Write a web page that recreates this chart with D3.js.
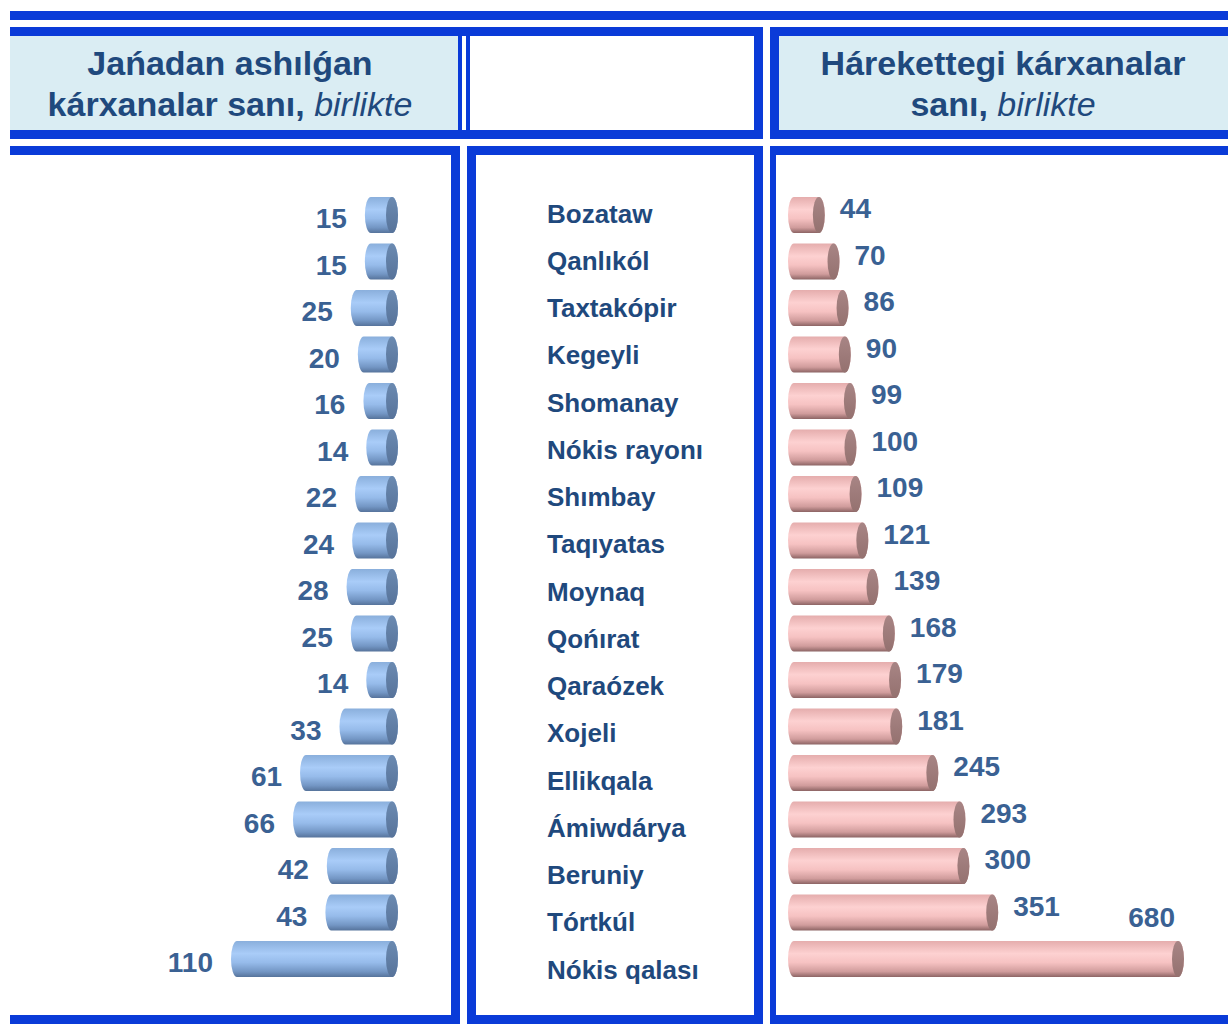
<!DOCTYPE html>
<html>
<head>
<meta charset="utf-8">
<script src="https://cdn.jsdelivr.net/npm/d3@7"></script>
<style>
  html, body { margin: 0; padding: 0; background: #ffffff; }
  svg { display: block; }
</style>
</head>
<body>
<svg id="chart" width="1228" height="1027"></svg>
<script>
// District names, top to bottom
const districts = [
  "Bozataw", "Qanlıkól", "Taxtakópir", "Kegeyli", "Shomanay", "Nókis rayonı",
  "Shımbay", "Taqıyatas", "Moynaq", "Qońırat", "Qaraózek", "Xojeli",
  "Ellikqala", "Ámiwdárya", "Beruniy", "Tórtkúl", "Nókis qalası"
];
// Newly opened enterprises, units
const newEnterprises = [15, 15, 25, 20, 16, 14, 22, 24, 28, 25, 14, 33, 61, 66, 42, 43, 110];
// Operating enterprises, units
const activeEnterprises = [44, 70, 86, 90, 99, 100, 109, 121, 139, 168, 179, 181, 245, 293, 300, 351, 680];

const leftTitle = ["Jańadan ashılǵan", "kárxanalar sanı, ", "birlikte"];
const rightTitle = ["Hárekettegi kárxanalar", "sanı, ", "birlikte"];

const BORDER = "#0a3bd8";
const HEAD_FILL = "#daedf3";
const TITLE = "#1f497d";
const VALUE = "#3a6193";
const FONT = "'Liberation Sans', Arial, sans-serif";

const svg = d3.select("#chart");
const defs = svg.append("defs");

function vGrad(id, stops) {
  const g = defs.append("linearGradient").attr("id", id)
    .attr("x1", 0).attr("y1", 0).attr("x2", 0).attr("y2", 1);
  stops.forEach(([o, c]) => g.append("stop").attr("offset", o).attr("stop-color", c));
}
vGrad("blueBody", [[0, "#8aafdc"], [0.35, "#a9ccf8"], [0.6, "#96bbea"], [0.85, "#7396c4"], [1, "#56739b"]]);
vGrad("blueCap", [[0, "#6b8ab1"], [1, "#57739a"]]);
vGrad("pinkBody", [[0, "#e5adad"], [0.35, "#fdd1d1"], [0.6, "#f6c2c2"], [0.85, "#d09c9c"], [1, "#8c6464"]]);
vGrad("pinkCap", [[0, "#a88585"], [1, "#94716f"]]);

// ---- frame ----
const frame = svg.append("g").attr("fill", BORDER);
function box(x, y, w, h) { frame.append("rect").attr("x", x).attr("y", y).attr("width", w).attr("height", h); }

// top rule
box(10, 11, 1218, 9);
// header row: left + middle block
box(10, 27, 753, 9);
box(10, 130, 753, 9);
svg.insert("rect", "g").attr("x", 10).attr("y", 36).attr("width", 448).attr("height", 94).attr("fill", HEAD_FILL);
box(458, 36, 4, 94);
box(466, 36, 4, 94);
box(754, 27, 9, 112);
// header row: right block
box(770, 27, 458, 9);
box(770, 130, 458, 9);
box(770, 27, 9, 112);
svg.insert("rect", "g").attr("x", 779).attr("y", 36).attr("width", 449).attr("height", 94).attr("fill", HEAD_FILL);

// content row: left panel
box(10, 146, 450, 9);
box(451, 146, 9, 878);
box(10, 1015, 450, 9);
// content row: middle panel
box(467, 146, 296, 9);
box(467, 146, 9, 878);
box(754, 146, 9, 878);
box(467, 1015, 296, 9);
// content row: right panel
box(770, 146, 458, 9);
box(770, 146, 6, 878);
box(770, 1015, 458, 9);

// ---- header titles ----
function title(cx, lines) {
  const t = svg.append("text").attr("text-anchor", "middle")
    .attr("font-family", FONT).attr("font-size", 34).attr("fill", TITLE);
  t.append("tspan").attr("x", cx).attr("y", 75).attr("font-weight", "bold").text(lines[0]);
  const l2 = t.append("tspan").attr("x", cx).attr("y", 116);
  l2.append("tspan").attr("font-weight", "bold").text(lines[1]);
  l2.append("tspan").attr("font-style", "italic").text(lines[2]);
}
title(230, leftTitle);
title(1003, rightTitle);

// ---- scales ----
const RX = 6, RY = 18;
const yBar = d3.scalePoint().domain(districts).range([215, 959]);
const yLabel = d3.scalePoint().domain(districts).range([213.5, 969.5]);
// left chart grows leftward from a fixed right end
const xNew = d3.scaleLinear().domain([0, 110]).range([392, 392 - 155]);
// right chart grows rightward from a fixed left end
const xActive = d3.scaleLinear().domain([0, 680]).range([794, 794 + 384]);

function cylinder(xl, xr, yc) {
  return `M${xl},${yc - RY}L${xr},${yc - RY}A${RX},${RY} 0 0 1 ${xr},${yc + RY}` +
         `L${xl},${yc + RY}A${RX},${RY} 0 0 1 ${xl},${yc - RY}Z`;
}

const leftRows = districts.map((d, i) => ({ d, v: newEnterprises[i] }));
const rightRows = districts.map((d, i) => ({ d, v: activeEnterprises[i] }));

// left cylinders
const gl = svg.append("g");
gl.selectAll("path.body").data(leftRows).join("path")
  .attr("d", r => cylinder(xNew(r.v), xNew(0), yBar(r.d)))
  .attr("fill", "url(#blueBody)");
gl.selectAll("ellipse").data(leftRows).join("ellipse")
  .attr("cx", xNew(0)).attr("cy", r => yBar(r.d)).attr("rx", RX).attr("ry", RY)
  .attr("fill", "url(#blueCap)");
gl.selectAll("text").data(leftRows).join("text")
  .attr("x", r => xNew(r.v) - RX - 18)
  .attr("y", r => yBar(r.d) + 3 + 10)
  .attr("text-anchor", "end")
  .attr("font-family", FONT).attr("font-weight", "bold").attr("font-size", 28)
  .attr("fill", VALUE)
  .text(r => r.v);

// right cylinders
const gr = svg.append("g");
gr.selectAll("path.body").data(rightRows).join("path")
  .attr("d", r => cylinder(xActive(0), xActive(r.v), yBar(r.d)))
  .attr("fill", "url(#pinkBody)");
gr.selectAll("ellipse").data(rightRows).join("ellipse")
  .attr("cx", r => xActive(r.v)).attr("cy", r => yBar(r.d)).attr("rx", RX).attr("ry", RY)
  .attr("fill", "url(#pinkCap)");
gr.selectAll("text").data(rightRows).join("text")
  .each(function (r) {
    const end = xActive(r.v) + RX;
    const t = d3.select(this);
    if (end + 60 > 1228) {
      // no room on the right: sit the label above the end of the bar
      t.attr("x", end - 9).attr("y", yBar(r.d) - 42 + 10).attr("text-anchor", "end");
    } else {
      t.attr("x", end + 15).attr("y", yBar(r.d) - 7 + 10).attr("text-anchor", "start");
    }
  })
  .attr("font-family", FONT).attr("font-weight", "bold").attr("font-size", 28)
  .attr("fill", VALUE)
  .text(r => r.v);

// district names in the middle panel
svg.append("g").selectAll("text").data(districts).join("text")
  .attr("x", 547)
  .attr("y", d => yLabel(d) + 9)
  .attr("font-family", FONT).attr("font-weight", "bold").attr("font-size", 26)
  .attr("fill", TITLE)
  .text(d => d);
</script>
</body>
</html>
